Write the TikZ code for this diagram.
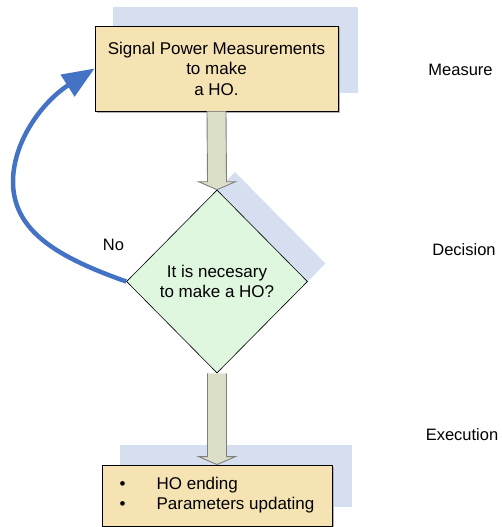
\documentclass[tikz,border=0pt]{standalone}
\usepackage{fontspec}
\setmainfont{Liberation Sans}
\usetikzlibrary{shapes.geometric,arrows.meta,calc}
\definecolor{boxfill}{HTML}{F6E3B4}
\definecolor{decfill}{HTML}{DFF6DF}
\definecolor{shadowblue}{HTML}{D5DFF0}
\definecolor{arrfill}{HTML}{DCDFC8}
\definecolor{arrline}{HTML}{7F7F7F}
\definecolor{loopblue}{HTML}{4472C4}
\tikzset{
  txt/.style={font=\fontsize{17}{20.5}\selectfont, align=center},
  procbox/.style={txt, draw=black, line width=0.9pt, fill=boxfill, inner sep=0pt},
  decbox/.style={txt, shape=diamond, draw=black, line width=0.6pt, fill=decfill, inner sep=0pt, minimum width=181pt, minimum height=183pt},
  decshadow/.style={shape=diamond, fill=shadowblue, inner sep=0pt, minimum width=181pt, minimum height=183pt},
  blockarrow/.style={fill=arrfill, draw=arrline, line width=0.9pt, line join=miter},
  sidelabel/.style={font=\fontsize{16.5}{20}\selectfont, anchor=base},
  loop/.style={draw=loopblue, line width=4.5pt, -{Triangle[length=32pt,width=25pt]}}
}
\begin{document}
\begin{tikzpicture}[x=1pt,y=-1pt]
\useasboundingbox (0,0) rectangle (501,527);
% shadows
\fill[shadowblue] (113,7) rectangle (358,93);
\fill[shadowblue] (120,445) rectangle (352,507);
\node[decshadow] (decsh) at (235,263.5) {};
% boxes
\fill[gray!60] (96.5,27.5) rectangle (339.5,112.5);
\node[procbox, minimum width=243pt, minimum height=85pt] (top) at (216.5,68.5)
  {Signal Power Measurements\\to make\\a HO.};
\node[decbox] (dec) at (217,281.5) {It is necesary\\to make a HO?};
\fill[gray!60] (103.5,466.5) rectangle (333.5,527.5);
\node[procbox, minimum width=230pt, minimum height=61pt] (bot) at (217,495.5)
  {\begin{tabular}{@{}l@{}}\makebox[37pt][l]{\textbullet}HO ending\\[-1pt]\makebox[37pt][l]{\textbullet}Parameters updating\end{tabular}};
% block arrows
\draw[blockarrow] ($(top.south)+(-9.5,0)$) -- ($(dec.north)+(-9.5,-8)$) -- ($(dec.north)+(-18.5,-8)$)
  -- (dec.north) -- ($(dec.north)+(18.5,-8)$) -- ($(dec.north)+(9.5,-8)$) -- ($(top.south)+(9.5,0)$);
\draw[blockarrow] ($(dec.south)+(-9.5,0)$) -- ($(bot.north)+(-9.5,-8)$) -- ($(bot.north)+(-18.5,-8)$)
  -- (bot.north) -- ($(bot.north)+(18.5,-8)$) -- ($(bot.north)+(9.5,-8)$) -- ($(dec.south)+(9.5,0)$);
% loop arrow
\draw[loop] (dec.west) .. controls (60,258) and (12,232) .. (13,180)
  .. controls (14,138) and (45,100) .. (top.west);
\node[sidelabel] (no) at (113.5,250) {No};
% side labels
\node[sidelabel] (l1) at (460.5,75) {Measure};
\node[sidelabel] (l2) at (464,255) {Decision};
\node[sidelabel] (l3) at (462,440) {Execution};
\end{tikzpicture}
\end{document}
